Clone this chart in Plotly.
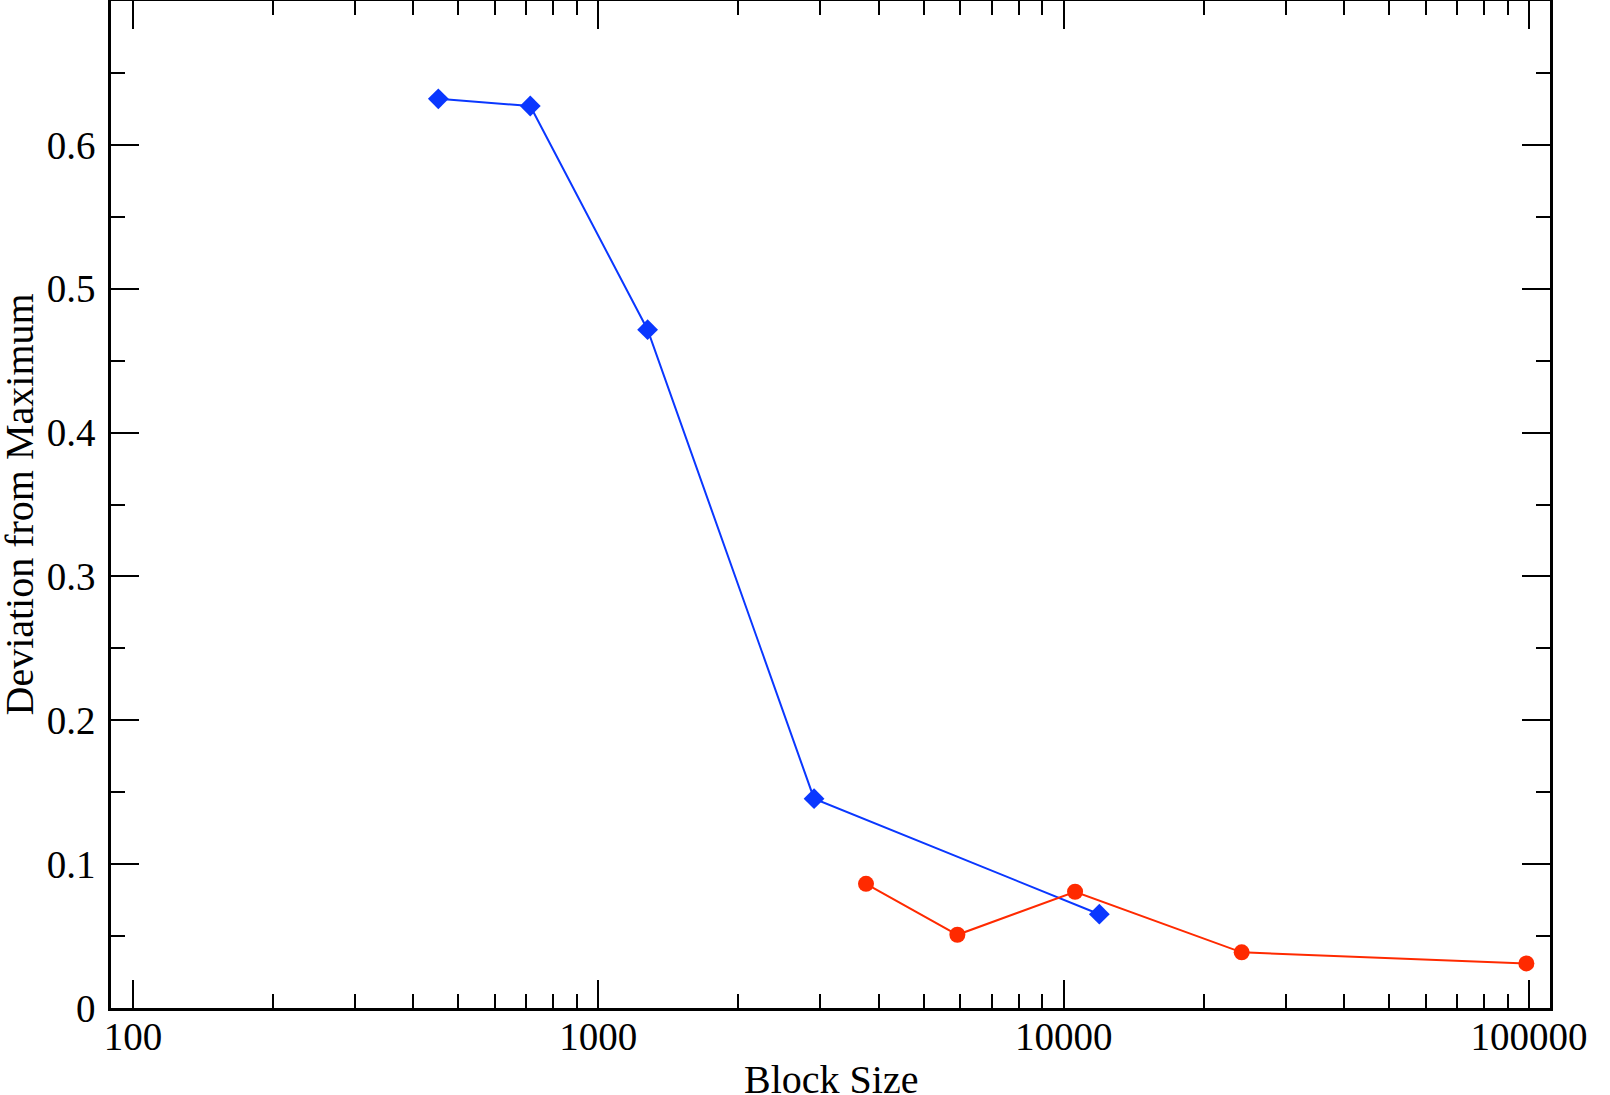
import plotly.graph_objects as go

# Data
blue_x = [453, 714, 1276, 2908, 11930]
blue_y = [0.632, 0.627, 0.4715, 0.1455, 0.0652]
red_x = [3760, 5910, 10580, 24130, 98700]
red_y = [0.0863, 0.0509, 0.0808, 0.0387, 0.0310]

x_tickvals = [100, 1000, 10000, 100000]
x_ticktext = ["100", "1000", "10000", "100000"]
y_tickvals = [0, 0.1, 0.2, 0.3, 0.4, 0.5, 0.6]
y_ticktext = ["0", "0.1", "0.2", "0.3", "0.4", "0.5", "0.6"]
y_minorvals = [0.05, 0.15, 0.25, 0.35, 0.45, 0.55, 0.65]

x_title = "Block Size"
y_title = "Deviation from Maximum"

BLUE = "#0a37ff"
RED = "#ff2a00"
FONT = "Liberation Serif"

fig = go.Figure()
fig.add_trace(go.Scatter(
    x=blue_x, y=blue_y, mode="lines+markers",
    line=dict(color=BLUE, width=2),
    marker=dict(symbol="diamond", size=16, color=BLUE),
    showlegend=False,
))
fig.add_trace(go.Scatter(
    x=red_x, y=red_y, mode="lines+markers",
    line=dict(color=RED, width=2),
    marker=dict(symbol="circle", size=16, color=RED),
    showlegend=False,
))

axis_common = dict(
    showline=True, linecolor="black", linewidth=2.5, mirror="allticks",
    ticks="inside", ticklen=28, tickwidth=2, tickcolor="black",
    showgrid=False, zeroline=False, automargin=False,
    tickfont=dict(family=FONT, size=39, color="black"),
)

fig.update_xaxes(
    type="log", range=[1.9527, 5.0451],
    tickmode="array", tickvals=x_tickvals, ticktext=x_ticktext,
    minor=dict(ticks="inside", ticklen=14, tickwidth=2, tickcolor="black",
               dtick="D1", showgrid=False),
    ticklabelstandoff=-8,
    **axis_common,
)
fig.update_yaxes(
    range=[0, 0.7],
    tickmode="array", tickvals=y_tickvals, ticktext=y_ticktext,
    minor=dict(ticks="inside", ticklen=14, tickwidth=2, tickcolor="black",
               tickmode="array", tickvals=y_minorvals, showgrid=False),
    ticklabelstandoff=5,
    **axis_common,
)

title_font = dict(family=FONT, size=40, color="black")
fig.add_annotation(text=x_title, xref="paper", yref="paper", x=0.5, y=0,
                   xanchor="center", yanchor="middle", yshift=-71,
                   showarrow=False, font=title_font)
fig.add_annotation(text=y_title, xref="paper", yref="paper", x=0, y=0.5,
                   xanchor="center", yanchor="middle", xshift=-92,
                   textangle=-90, showarrow=False, font=title_font)

fig.update_layout(
    width=1610, height=1095,
    margin=dict(l=111, r=60, t=1, b=87, pad=0, autoexpand=False),
    plot_bgcolor="white", paper_bgcolor="white",
    font=dict(family=FONT, color="black"),
)

fig.write_html("out.html")
